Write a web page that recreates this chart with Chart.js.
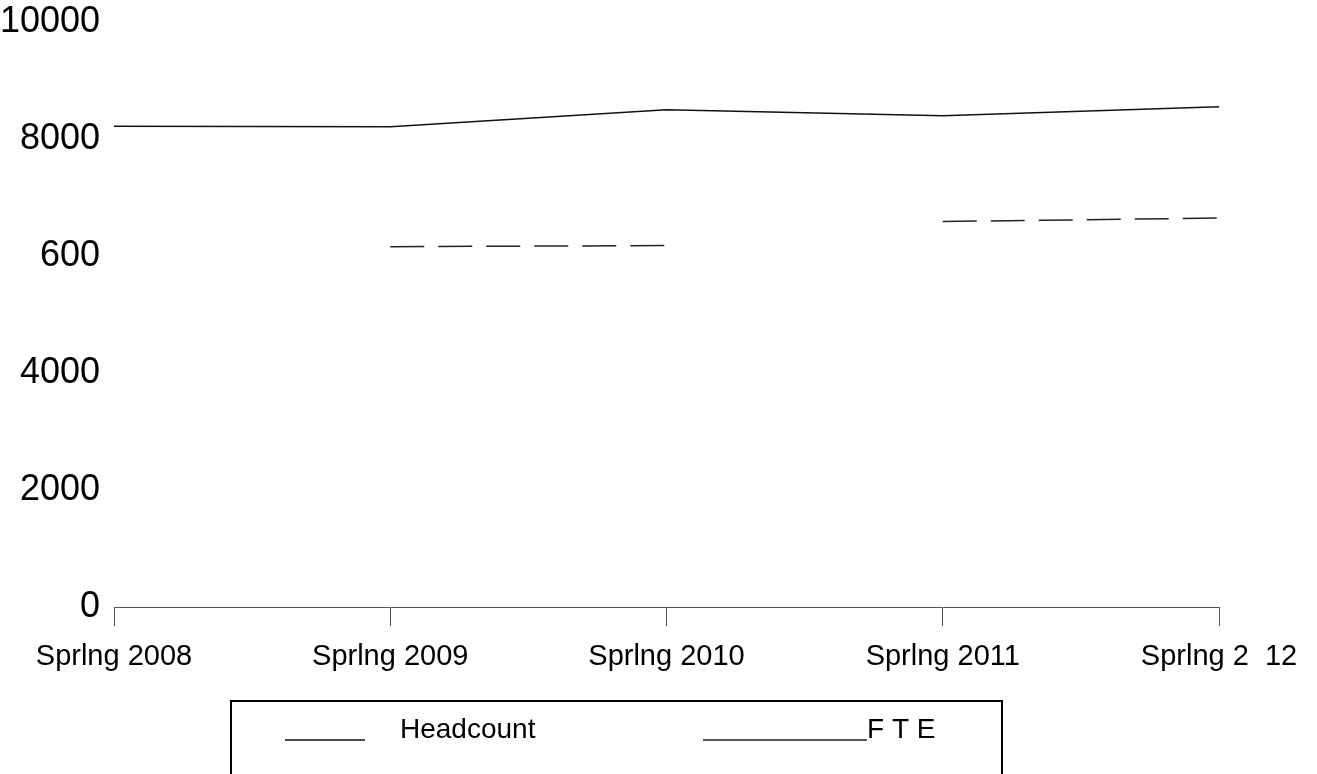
<!DOCTYPE html>
<html>
<head>
<meta charset="utf-8">
<title>Headcount and FTE</title>
<script src="https://cdn.jsdelivr.net/npm/chart.js@4"></script>
<style>
  html, body { margin: 0; padding: 0; background: #fff; }
  #wrap { width: 1317px; height: 774px; overflow: hidden; }
</style>
</head>
<body>
<div id="wrap"><canvas id="line-chart" width="1317" height="774"></canvas></div>
<script>
/*******************************
 * data
*******************************/
var categories = ["Sprlng 2008", "Sprlng 2009", "Sprlng 2010", "Sprlng 2011", "Sprlng 2  12"];
var headcount = [8220, 8210, 8500, 8400, 8550];
var fte = [null, 6160, 6180, 6590, 6650];
var yTickLabels = ["0", "2000", "4000", "600", "8000", "10000"]; // as printed
var seriesNames = ["Headcount", "F T E"];

/*******************************
 * boxed legend under the axis, like the scan
*******************************/
var boxLegend = {
  id: "boxLegend",
  afterDraw: function(chart) {
    var c = chart.ctx;
    var ds = chart.data.datasets;
    c.save();
    c.strokeStyle = "#000";
    c.lineWidth = 2;
    c.strokeRect(231, 701, 771, 100);

    c.font = "28px 'Liberation Sans', Arial, sans-serif";
    c.fillStyle = "#000";
    c.textBaseline = "alphabetic";
    c.lineWidth = 1.5;

    // headcount item
    c.beginPath();
    c.moveTo(285, 740);
    c.lineTo(365, 740);
    c.strokeStyle = ds[0].borderColor;
    c.stroke();
    c.fillText(ds[0].label, 400, 738);

    // fte item
    c.beginPath();
    c.moveTo(703, 740);
    c.lineTo(867, 740);
    c.strokeStyle = ds[1].borderColor;
    c.stroke();
    c.fillText(ds[1].label, 867, 738);
    c.restore();
  }
};

var chart = new Chart("line-chart", {
  type: "line",
  data: {
    labels: categories,
    datasets: [{
      label: seriesNames[0],
      data: headcount,
      fill: false,
      lineTension: 0,
      borderColor: "#111",
      borderWidth: 1.5,
      pointRadius: 0
    }, {
      label: seriesNames[1],
      data: fte,
      fill: false,
      lineTension: 0,
      borderColor: "#222",
      borderWidth: 1.5,
      borderDash: [34, 14],
      pointRadius: 0,
      segment: {
        // the scan shows no line between 2010 and 2011
        borderColor: function(ctx) { return ctx.p0DataIndex === 2 ? "rgba(0,0,0,0)" : undefined; }
      }
    }]
  },
  options: {
    responsive: false,
    animation: false,
    layout: { padding: { left: 0, right: 98, top: 0, bottom: 87 } },
    plugins: {
      legend: { display: false },
      tooltip: { enabled: false }
    },
    scales: {
      x: {
        offset: false,
        grid: { display: true, drawOnChartArea: false, drawTicks: true, tickLength: 19, color: "#555" },
        border: { display: true, color: "#555", width: 1 },
        ticks: {
          color: "#000",
          padding: 13,
          maxRotation: 0,
          autoSkip: false,
          font: { family: "'Liberation Sans', Arial, sans-serif", size: 29 }
        }
      },
      y: {
        min: 0,
        max: 10000,
        grid: { display: false, drawTicks: false },
        border: { display: false },
        afterFit: function(scale) {
          scale.width = 114;
          scale.paddingTop = 22; // keep the top label just inside the canvas
        },
        ticks: {
          stepSize: 2000,
          color: "#000",
          padding: 14,
          font: { family: "'Liberation Sans', Arial, sans-serif", size: 36 },
          callback: function(value, index) { return yTickLabels[index]; }
        }
      }
    }
  },
  plugins: [boxLegend]
});
</script>
</body>
</html>
